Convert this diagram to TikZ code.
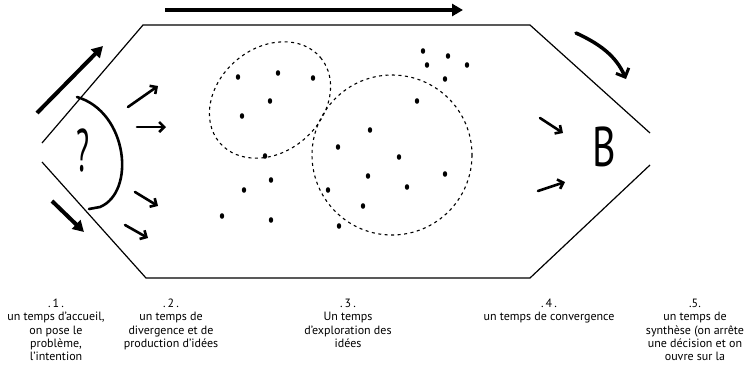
\documentclass[tikz,border=0pt]{standalone}
\usepackage{fontspec}
\setmainfont{PT Sans}
\usetikzlibrary{arrows.meta}

\begin{document}
\begin{tikzpicture}[x=1pt,y=-1pt,
	hexline/.style={line width=1.2pt},
	bigarrow/.style={line width=4pt,-{Triangle[length=11pt,width=12pt]}},
	handarrow/.style={line width=2.6pt,line cap=round,-{Straight Barb[length=5pt,width=10pt,line width=2.6pt]}},
	cloud/.style={line width=1.1pt,dash pattern=on 3pt off 3.5pt},
	steptext/.style={anchor=north,align=center,inner sep=0pt,font=\fontsize{12}{13.2}\selectfont}]
	\useasboundingbox (0,0) rectangle (748,375);
	% the hexagon
	\draw[hexline] (42,143) -- (143,25) -- (530,25) -- (650,133);
	\draw[hexline] (650,165) -- (530,278) -- (146,278) -- (42,162);
	% big arrows round the hexagon
	\coordinate (topA) at (165,10);
	\coordinate (topB) at (463,10);
	\draw[bigarrow] (topA) -- (topB);
	\coordinate (upA) at (37,113);
	\coordinate (upB) at (103,46);
	\draw[bigarrow] (upA) -- (upB);
	\coordinate (downA) at (52,201);
	\coordinate (downB) at (84,232);
	\draw[bigarrow] (downA) -- (downB);
	\coordinate (rightA) at (576,33);
	\coordinate (rightB) at (626,79);
	\draw[line width=3.5pt,line cap=round,-{Straight Barb[length=7pt,width=14pt,line width=3pt]}]
		(rightA) .. controls (600,44) and (616,56) .. (rightB);
	% the problem
	\draw[line width=2.6pt,line cap=round] (77,97) .. controls (128,112) and (136,192) .. (100,207) -- (89,209);
	\node[font=\fontsize{60}{60}\selectfont] (quest) at (83,150) {\scalebox{0.5}[1]{?}};
	\node[font=\fontsize{56}{56}\selectfont] (bee) at (604,147) {\scalebox{0.72}[1]{B}};
	% small arrows
	\foreach \a/\b in {{(128,107)}/{(158,86)},{(137,127)}/{(166,127)},{(135,192)}/{(158,206)},
		{(125,225)}/{(148,238)},{(540,118)}/{(563,133)},{(538,191)}/{(565,182)}}
		\draw[handarrow] \a -- \b;
	% ideas
	\draw[cloud,rotate around={40:(270,100)}] (270,100) ellipse (66 and 52);
	\draw[cloud] (392,155) ellipse (80 and 80);
	\foreach \p in {(238,77),(278,73),(313,78),(270,101),(242,116),(265,156),(271,180),(244,190),
		(222,216),(271,220),(423,51),(448,56),(467,65),(427,65),(445,79),(417,101),(370,130),
		(338,147),(399,157),(368,176),(445,174),(407,187),(328,190),(363,206),(339,226)}
		\fill \p ellipse (2.2 and 2.8);
	% the five steps
	\node[steptext] (step1) at (56,299) {.\,1\,.\\un temps d'accueil,\\on pose le\\problème,\\l'intention};
	\node[steptext] (step2) at (171,299) {.\,2\,.\\un temps de\\divergence et de\\production d'idées};
	\node[steptext] (step3) at (348,299) {.\,3\,.\\Un temps\\d'exploration des\\idées};
	\node[steptext] (step4) at (549,299) {.\,4\,.\\un temps de convergence};
	\node[steptext] (step5) at (695,299) {.5.\\un temps de\\synthèse (on arrête\\une décision et on\\ouvre sur la};
\end{tikzpicture}
\end{document}
